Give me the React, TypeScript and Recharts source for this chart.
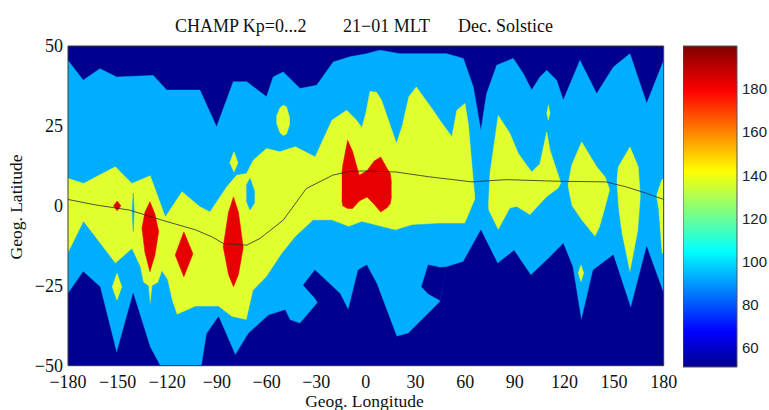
import React from 'react';
import { ComposedChart, Area, Line, XAxis, YAxis, ReferenceArea } from 'recharts';

// ---------- axes / ticks ----------
const LON_TICKS = [-180, -150, -120, -90, -60, -30, 0, 30, 60, 90, 120, 150, 180];
const LAT_TICKS = [-50, -25, 0, 25, 50];
const LON_RANGE = [-180, 180];
const LAT_RANGE = [-50, 50];
const CBAR_TICKS = [60, 80, 100, 120, 140, 160, 180];
const CBAR_RANGE = [51, 200];

const TITLE_PARTS = ['CHAMP Kp=0...2', '21\u221201 MLT', 'Dec. Solstice'];
const X_LABEL = 'Geog. Longitude';
const Y_LABEL = 'Geog. Latitude';

// ---------- contour boundaries [lon, lat] ----------
// upper edge of light-blue band (dark blue above)
const lightBlueTop: number[][] = [
  [-180, 45.5], [-170.8, 39.3], [-160.7, 42.9], [-150.6, 40.3], [-128.5, 40.8], [-120.4, 36.2],
  [-100.3, 36.2], [-90.2, 24.7], [-80.1, 38.8], [-72, 38.8], [-60, 34.1], [-56, 40.3], [-49.9, 41.9],
  [-39.8, 36.7], [-29.7, 37.7], [-19.7, 45], [-9.6, 46.6], [0.5, 47.6], [8.5, 48.7], [20.6, 47.6],
  [48.8, 47.6], [58.9, 46.1], [64.9, 37.2], [69.5, 23.5], [73, 35.1], [79.1, 44], [89.1, 46.1],
  [95.1, 41.4], [100.2, 36.2], [105.2, 40.3], [109.3, 42.4], [115.3, 39.3], [119.3, 33], [129.4, 45.5],
  [139.5, 35.1], [149.6, 43.4], [159.6, 47.6], [169.7, 32], [180, 45.5],
];
// lower edge of light-blue band (dark blue below)
const lightBlueBottom: number[][] = [
  [-180, -27.5], [-170.8, -20.6], [-160.7, -25.3], [-150.6, -46.1], [-140.6, -27.4], [-130.5, -44.1],
  [-124.4, -50], [-99.2, -50], [-96.1, -39.9], [-89, -34.7], [-78.9, -46.7], [-70.9, -39.9], [-58.8, -34.2],
  [-48.8, -32.6], [-45.9, -35.7], [-39.8, -36.8], [-28.7, -30], [-15.7, -27.4],
  [-10.6, -32.6], [-4.6, -20.1], [0.5, -18.5], [6.5, -24.3], [18.6, -40.9], [25.6, -39.9], [44.8, -30],
  [48.8, -19.1], [58.9, -17.5], [69.5, -7.6], [79.6, -18], [89.6, -14], [99.7, -21.7], [109.7, -16.8],
  [119.3, -11.8], [124.9, -19], [130.2, -36], [137.4, -20.1], [149.5, -15.4], [160.1, -32], [169.7, -12.8],
  [180, -27.5],
];
// upper edge of yellow band
const yellowTop: number[][] = [
  [-180, 8.6], [-170.6, 7], [-151.4, 12.2], [-141.4, 7], [-130.3, 9.4], [-121.2, -3.5], [-111.1, 4.4],
  [-100.3, -0.3], [-94.2, -1.9], [-84.1, 5.9], [-78.1, 9.6], [-72.1, 10.1], [-68, 14.3], [-60, 17.9],
  [-52, 16.9], [-42.6, 18.5], [-30.6, 15.3], [-20.5, 26.8], [-11.6, 29.9], [-6, 27], [-2.4, 24.5],
  [0, 29], [2.5, 35.8], [6.5, 35.5], [9.5, 33], [18.5, 19.5], [22, 25], [26, 34.1], [30.5, 37.2],
  [40, 30.4], [46, 25.8], [52, 21.6], [55, 29.9], [59.9, 32], [61.9, 25.7], [64.9, 8], [66, 1.8],
  [70, -12], [74, -1.3], [75, 10.1], [80, 28.3], [87.1, 22.6], [92.1, 16.4], [100.2, 10.6], [105.2, 13.2],
  [109.3, 23.1], [111.3, 17.4], [116.3, 9.6], [118, 7], [120, -10], [122, 6], [124.4, 12.7], [130.4, 20],
  [139.5, 12.2], [144.5, 9.1], [147.5, 4.9], [149.5, -10], [151.5, 7], [152.6, 12.2], [159.6, 18.4],
  [164.6, 12.2], [166, 2], [171, -15], [175.5, 3], [178.8, 8], [180, 8.6],
];
// lower edge of yellow band
const yellowBottom: number[][] = [
  [-180, -14.9], [-170.6, -5], [-151.4, -18], [-141.4, -13.5], [-136.5, -19], [-134.5, -24], [-131.5, -25],
  [-130.3, -31.5], [-129, -25], [-125.5, -24], [-123.2, -20.5], [-120, -23], [-117.2, -29.5], [-114.2, -34.1],
  [-103.1, -31.5], [-89, -31.5], [-81, -34.7], [-72.1, -35.7], [-68, -26.4], [-60, -22.2], [-50.7, -14.9],
  [-42.6, -9.7], [-31.8, -4.5], [-20.5, -4.5], [-10.4, -6.5], [-2.4, -5], [17.8, -7.6], [27.9, -6],
  [44.8, -5.5], [59.9, -5.5], [65.9, 1.8], [70, 12], [74, -1.3], [80, -7.6], [87.1, -0.8], [91.1, -0.3],
  [99.2, -2.9], [109.3, 2.8], [116.3, 5.4], [118, 7], [120, 15], [122, 6], [124.4, 0], [130.4, -4.5],
  [138.5, -9.7], [141.5, -6.5], [144.5, -1], [147.5, 4.9], [149.5, 15], [151.5, 7], [152.6, -1],
  [154.6, -8.6], [159.6, -21.1], [164.6, -7.6], [166, 2], [171, 15], [175.5, 3], [176.8, -1.3],
  [178.8, -14.9], [180, -15],
];

// ---------- islands [lon, low, high] ----------
const darkTongueWest = [[-37.8, -24.8, -24.8], [-30.8, -28.8, -20.1], [-28.7, -30.5, -21.1], [-15.7, -27.4, -27.4]];
const darkTongueEast = [[33.7, -25.3, -25.3], [37.7, -27.5, -18.5], [44.8, -29.5, -19.3], [48.8, -19.1, -19.1]];
const yellowIsle1 = [[-153.2, -25.3, -25.3], [-150.4, -29.5, -21.1], [-147.5, -25.3, -25.3]];
const yellowIsle2 = [[-82.2, 13.5, 13.5], [-79.7, 10.6, 16.9], [-77.3, 13.5, 13.5]];
const yellowIsle3 = [[-54, 26, 28], [-52, 23, 30.5], [-50, 22, 31.5], [-48, 22.5, 31], [-46, 25.5, 27.5]];
const yellowIsle4 = [[109.4, 29, 29], [110.3, 26.8, 31.5], [111.2, 29, 29]];
const yellowIsle5 = [[128.4, -21, -21], [130, -23.7, -18.5], [131.6, -21, -21]];
const lightBlueHole = [[-72.2, 1.5, 6.5], [-70, -1.3, 8.6], [-67.2, 1, 4.5]];
const lightBlueStripe = [[-141.2, -1.5, -1.5], [-140.6, -8, 4], [-140, -1.5, -1.5]];
const red1 = [[-152.5, 0, 0], [-150.3, -1.5, 1.5], [-148, 0, 0]];
const red2 = [[-135.3, -7, -7], [-133.5, -14.5, -2], [-130.5, -20.6, 1.3], [-127.5, -15.5, -2.5], [-125.2, -8, -8]];
const red3 = [[-115.2, -15.4, -15.4], [-110, -22.2, -8.1], [-104.5, -15, -15]];
const red4 = [[-86.2, -12.8, -12.8], [-83, -21.5, -2], [-80, -25.3, 2.8], [-77, -21.5, -2], [-74.1, -13, -13]];
const red5 = [[-14.5, 2, 10], [-14, 0, 12.5], [-11, -0.8, 20.5], [-8, -0.8, 17], [-4, 1.5, 9.6], [0.7, 2.8, 11],
  [5, 0.5, 14], [9, -1.9, 15.3], [13, -0.5, 11.5], [14.8, 0.7, 10.1], [15.5, 3, 7]];

// magnetic equator
const magEquator = [
  [-180, 2], [-163.5, 0.3], [-143, -1.3], [-123, -4.5], [-103, -7.5], [-93, -9.7], [-86, -11.8], [-72, -12.3],
  [-64, -10.2], [-50, -4.5], [-36, 5.4], [-20, 9.6], [-10, 10.8], [0, 10.9], [18, 10.6], [38, 9.1], [64, 7.5],
  [85, 8.2], [115, 7.7], [145, 7.5], [157.6, 5.9], [169.7, 3.9], [180, 2],
];

// ---------- styling ----------
const DARK = '#00008F';
const LIGHT = '#00AEFF';
const YEL = '#E1FF2E';
const RED = '#E60000';
const BOX = '#3a3a3a';
const SERIF = "'Liberation Serif', 'Times New Roman', serif";
const SANS = "'Liberation Sans', Arial, sans-serif";

const toBand = (pts: number[][]) => pts.map(([lon, lat]) => ({ lon, v: [LAT_RANGE[0], lat] }));
const toRange = (pts: number[][]) => pts.map(([lon, lo, hi]) => ({ lon, v: [lo, hi] }));
const fullField = [
  { lon: LON_RANGE[0], v: [LAT_RANGE[0], LAT_RANGE[1]] },
  { lon: LON_RANGE[1], v: [LAT_RANGE[0], LAT_RANGE[1]] },
];
const fmt = (v: number) => (v < 0 ? `\u2212${Math.abs(v)}` : `${v}`);

const layers: { data: any[]; fill: string; key: string }[] = [
  { key: 'bg', data: fullField, fill: DARK },
  { key: 'lbTop', data: toBand(lightBlueTop), fill: LIGHT },
  { key: 'yTop', data: toBand(yellowTop), fill: YEL },
  { key: 'yBot', data: toBand(yellowBottom), fill: LIGHT },
  { key: 'lbBot', data: toBand(lightBlueBottom), fill: DARK },
  { key: 'tongueW', data: toRange(darkTongueWest), fill: DARK },
  { key: 'tongueE', data: toRange(darkTongueEast), fill: DARK },
  { key: 'yi1', data: toRange(yellowIsle1), fill: YEL },
  { key: 'yi2', data: toRange(yellowIsle2), fill: YEL },
  { key: 'yi3', data: toRange(yellowIsle3), fill: YEL },
  { key: 'yi4', data: toRange(yellowIsle4), fill: YEL },
  { key: 'yi5', data: toRange(yellowIsle5), fill: YEL },
  { key: 'hole', data: toRange(lightBlueHole), fill: LIGHT },
  { key: 'stripe', data: toRange(lightBlueStripe), fill: LIGHT },
  { key: 'r1', data: toRange(red1), fill: RED },
  { key: 'r2', data: toRange(red2), fill: RED },
  { key: 'r3', data: toRange(red3), fill: RED },
  { key: 'r4', data: toRange(red4), fill: RED },
  { key: 'r5', data: toRange(red5), fill: RED },
];
const eqData = magEquator.map(([lon, lat]) => ({ lon, lat }));

const JET_STOPS = [
  [0, '#00008F'], [0.11, '#0000FF'], [0.36, '#00FFFF'], [0.61, '#FFFF00'], [0.86, '#FF0000'], [1, '#800000'],
];
const cbarData = [{ x: 0 }, { x: 1 }];

export default function App() {
  return (
    <div style={{ position: 'absolute', left: 0, top: 0, width: 769, height: 410, background: '#fff', overflow: 'hidden' }}>
      <div style={{ position: 'absolute', left: 0, top: 0 }}>
        <ComposedChart width={769} height={410} margin={{ top: 46, right: 105.3, bottom: 14.3, left: 28 }}>
          <XAxis dataKey="lon" type="number" domain={LON_RANGE} ticks={LON_TICKS} interval={0} allowDataOverflow
            height={30} tickLine={false} tickSize={5} tickMargin={4.5} axisLine={{ stroke: BOX }}
            tick={{ fontSize: 18, fill: '#111', fontFamily: SERIF }} tickFormatter={fmt} />
          <YAxis type="number" domain={LAT_RANGE} ticks={LAT_TICKS} interval={0} allowDataOverflow width={40}
            tickLine={false} tickSize={5} tickMargin={0} axisLine={{ stroke: BOX }}
            tick={{ fontSize: 18, fill: '#111', fontFamily: SERIF }} tickFormatter={fmt} />
          <XAxis xAxisId="top" orientation="top" mirror type="number" domain={LON_RANGE} ticks={LON_TICKS} interval={0}
            allowDataOverflow tick={false} tickSize={5} axisLine={{ stroke: BOX }} tickLine={{ stroke: BOX }} />
          <XAxis xAxisId="bm" orientation="bottom" mirror type="number" domain={LON_RANGE} ticks={LON_TICKS} interval={0}
            allowDataOverflow tick={false} tickSize={5} axisLine={false} tickLine={{ stroke: BOX }} />
          <YAxis yAxisId="lm" orientation="left" mirror type="number" domain={LAT_RANGE} ticks={LAT_TICKS} interval={0}
            allowDataOverflow tick={false} tickSize={5} axisLine={false} tickLine={{ stroke: BOX }} />
          <YAxis yAxisId="rm" orientation="right" mirror type="number" domain={LAT_RANGE} ticks={LAT_TICKS} interval={0}
            allowDataOverflow tick={false} tickSize={5} axisLine={{ stroke: BOX }} tickLine={{ stroke: BOX }} />
          {layers.map((l) => (
            <Area key={l.key} data={l.data} dataKey="v" type="linear" fill={l.fill} fillOpacity={1}
              stroke={l.fill} strokeWidth={0.5} isAnimationActive={false} dot={false} activeDot={false} />
          ))}
          <Line data={eqData} dataKey="lat" type="linear" stroke="#2a2a2a" strokeOpacity={0.8} strokeWidth={1}
            dot={false} activeDot={false} isAnimationActive={false} />
        </ComposedChart>
      </div>

      <div style={{ position: 'absolute', left: 683, top: 0 }}>
        <ComposedChart width={86} height={410} margin={{ top: 46, right: 0, bottom: 43, left: 0 }} data={cbarData}>
          <defs>
            <linearGradient id="jetGrad" x1="0" y1="1" x2="0" y2="0">
              {JET_STOPS.map(([o, c]) => (
                <stop key={String(o)} offset={String(o)} stopColor={String(c)} />
              ))}
            </linearGradient>
          </defs>
          <XAxis dataKey="x" type="number" domain={[0, 1]} hide allowDataOverflow />
          <YAxis orientation="right" type="number" domain={CBAR_RANGE} ticks={CBAR_TICKS} interval={0} allowDataOverflow
            width={32} tickLine={false} axisLine={false} tickSize={3} tickMargin={2}
            tick={{ fontSize: 15, fill: '#222', fontFamily: SANS }} />
          <YAxis yAxisId="cl" orientation="left" mirror type="number" domain={CBAR_RANGE} ticks={CBAR_TICKS} interval={0}
            allowDataOverflow tick={false} tickSize={3} axisLine={false} tickLine={{ stroke: '#333' }} />
          <YAxis yAxisId="cr" orientation="right" mirror type="number" domain={CBAR_RANGE} ticks={CBAR_TICKS} interval={0}
            allowDataOverflow tick={false} tickSize={3} axisLine={false} tickLine={{ stroke: '#333' }} />
          <ReferenceArea x1={0} x2={1} y1={CBAR_RANGE[0]} y2={CBAR_RANGE[1]} fill="url(#jetGrad)" fillOpacity={1}
            stroke="#555" strokeWidth={1} />
        </ComposedChart>
      </div>

      <svg width={769} height={410} style={{ position: 'absolute', left: 0, top: 0, pointerEvents: 'none' }}>
        <g fontFamily={SERIF} fill="#111">
          <text x={175} y={32} fontSize={18}>{TITLE_PARTS[0]}</text>
          <text x={343} y={32} fontSize={18}>{TITLE_PARTS[1]}</text>
          <text x={458} y={32} fontSize={18}>{TITLE_PARTS[2]}</text>
          <text x={364.5} y={406.5} fontSize={17.5} textAnchor="middle">{X_LABEL}</text>
          <text transform="translate(21.5,207) rotate(-90)" fontSize={17.5} textAnchor="middle">{Y_LABEL}</text>
        </g>
      </svg>
    </div>
  );
}
